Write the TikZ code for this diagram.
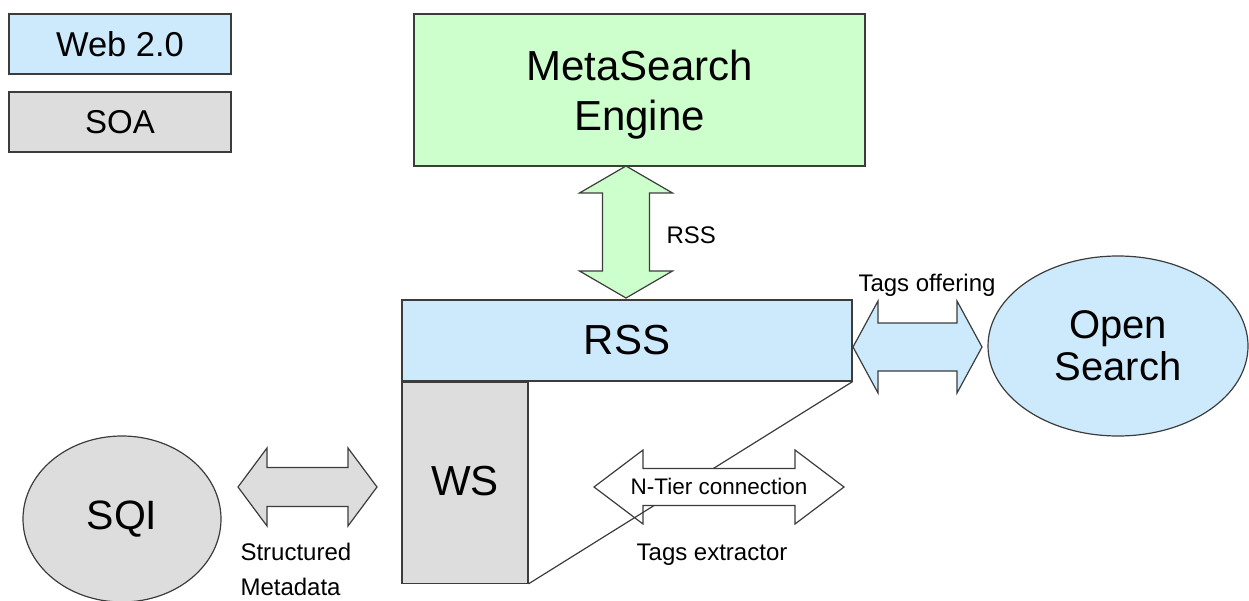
\documentclass[tikz,border=0pt]{standalone}
\usepackage{fontspec}
\setmainfont{Liberation Sans}
\usetikzlibrary{shapes.geometric}

\definecolor{webblue}{RGB}{204,234,252}
\definecolor{soagray}{RGB}{221,221,221}
\definecolor{metagreen}{RGB}{204,255,204}
\definecolor{edgegray}{RGB}{60,60,60}

\tikzset{
  box/.style={draw=edgegray,line width=1.2pt,inner sep=0pt},
  edge/.style={draw=edgegray,line width=1.2pt},
  blockarrow/.style={draw=edgegray,line width=1.2pt,line join=miter},
  bigtext/.style={font=\fontsize{42}{50}\selectfont},
  legtext/.style={font=\fontsize{33}{38}\selectfont},
  smalltext/.style={font=\fontsize{24}{35}\selectfont},
  pics/dblarrow/.style n args={4}{code={
    \draw[pic actions] (0,0) -- (#4,#3) -- (#4,#2) -- ({#1-#4},#2) -- ({#1-#4},#3)
      -- (#1,0) -- ({#1-#4},-#3) -- ({#1-#4},-#2) -- (#4,-#2) -- (#4,-#3) -- cycle;
  }}
}

\begin{document}
\begin{tikzpicture}[x=1pt,y=-1pt]
\useasboundingbox (0,0) rectangle (1249,601);

% legend
\node[box,fill=webblue,minimum width=222pt,minimum height=60pt,font=\fontsize{34.5}{38}\selectfont] (web) at (120,44) {Web 2.0};
\node[box,fill=soagray,minimum width=222pt,minimum height=60pt,legtext] (soa) at (120,122) {SOA};

% main blocks
\node[box,fill=metagreen,minimum width=451pt,minimum height=152pt,bigtext,align=center,text depth=0pt] (meta) at (639.5,90) {MetaSearch\\Engine};
\node[box,fill=webblue,minimum width=450pt,minimum height=81pt,bigtext] (rss) at (627,340.5) {RSS};
\node[box,fill=soagray,minimum width=126pt,minimum height=201pt,bigtext,anchor=north west] (ws) at (rss.south west) {};
\node[bigtext] at ([yshift=2pt]ws.center) {WS};
\node[box,ellipse,fill=webblue,minimum width=260pt,minimum height=180pt,font=\fontsize{40}{42}\selectfont,align=center] (open) at (1118,346) {Open\\Search};
\node[box,ellipse,fill=soagray,minimum width=198pt,minimum height=166pt,font=\fontsize{41}{45}\selectfont] (sqi) at (122,519) {SQI};

\draw[edge] (rss.south east) -- (ws.south east);

% block arrows
\pic[blockarrow,fill=metagreen,rotate=-90] at (626,166) {dblarrow={132}{23.5}{46.5}{27}};
\node[smalltext,anchor=base west] (rsslbl) at (663,244) {RSS};

\pic[blockarrow,fill=webblue] at (853,347) {dblarrow={129}{24}{46}{25}};
\node[smalltext,anchor=base] (offer) at (927,292) {Tags offering};

\node[fill=white,inner sep=0pt,minimum height=37pt,font=\fontsize{22.5}{26}\selectfont] (ntier) at (719,486.5) {N-Tier connection};
\pic[blockarrow] at (594,487) {dblarrow={250}{18.5}{37}{49}};
\node[smalltext,anchor=base] (extract) at (712,560) {Tags extractor};

\pic[blockarrow,fill=soagray] at (238,487) {dblarrow={139}{19.5}{39}{29}};
\node[smalltext,anchor=base west] (struct) at (237,560) {Structured};
\node[smalltext,anchor=base west] (metadata) at (237,595) {Metadata};
\end{tikzpicture}
\end{document}
